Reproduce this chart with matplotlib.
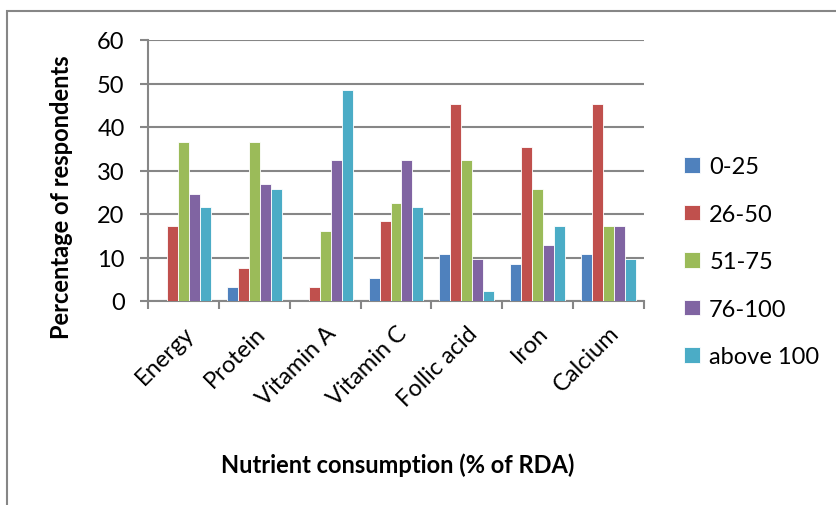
"""
Consumo de nutrientes (% da RDA) por faixa - gráfico de barras agrupadas.
"""

import numpy as np
import matplotlib.pyplot as plt
from matplotlib.patches import Rectangle

nutrientes = ["Energy", "Protein", "Vitamin A", "Vitamin C", "Follic acid", "Iron", "Calcium"]
faixas = ["0-25", "26-50", "51-75", "76-100", "above 100"]

faixa_0_25 = [0, 3.2, 0, 5.4, 10.8, 8.6, 10.8]
faixa_26_50 = [17.2, 7.5, 3.2, 18.3, 45.2, 35.5, 45.2]
faixa_51_75 = [36.6, 36.6, 16.1, 22.6, 32.3, 25.8, 17.2]
faixa_76_100 = [24.7, 26.9, 32.3, 32.3, 9.7, 12.9, 17.2]
faixa_acima_100 = [21.5, 25.8, 48.4, 21.5, 2.2, 17.2, 9.7]

cores = ["#4F81BD", "#C0504D", "#9BBB59", "#8064A2", "#4BACC6"]
cinza = "#868686"
tamanho = 17

plt.rcParams['font.family'] = ['Lato', 'DejaVu Sans']

fig = plt.figure(figsize=(8.36, 5.06), dpi=100)
ax = fig.add_axes([148 / 836, 1 - 302 / 506, (644 - 148) / 836, (302 - 41) / 506])

# moldura externa do gráfico
fig.patches.append(Rectangle((7 / 836, -0.1), 1.2, 1 - 12 / 506 + 0.1,
                             transform=fig.transFigure, fill=False,
                             edgecolor=cinza, linewidth=1.5))

series = [faixa_0_25, faixa_26_50, faixa_51_75, faixa_76_100, faixa_acima_100]
x = np.arange(len(nutrientes))
largura = 0.155
for i, (valores, cor, nome) in enumerate(zip(series, cores, faixas)):
    pos = x + (i - 2) * largura
    ax.bar(pos, valores, width=largura, color=cor, edgecolor="white",
           linewidth=0.6, label=nome, zorder=3)

ax.set_xlim(-0.5, len(nutrientes) - 0.5)
ax.set_ylim(0, 60)
ax.set_yticks(range(0, 61, 10))
ax.tick_params(axis='y', length=5.8, color=cinza, width=1.5, labelsize=tamanho, pad=11)
ax.grid(True, axis='y', color=cinza, linewidth=1.5, zorder=0)

# marcas do eixo x nos limites das categorias, rótulos no centro
ax.set_xticks(np.arange(-0.5, len(nutrientes)), minor=False)
ax.set_xticklabels([])
ax.tick_params(axis='x', which='major', length=5.8, color=cinza, width=1.5)
ax.set_xticks(x, minor=True)
ax.set_xticklabels(nutrientes, minor=True, rotation=45, ha='right',
                   rotation_mode='anchor', fontsize=tamanho)
ax.tick_params(axis='x', which='minor', length=0, pad=15)

for lado in ["top", "right"]:
    ax.spines[lado].set_visible(False)
for lado in ["left", "bottom"]:
    ax.spines[lado].set_color(cinza)
    ax.spines[lado].set_linewidth(1.5)

fig.text(398 / 836, 1 - 465 / 506, "Nutrient consumption (% of RDA)",
         ha='center', va='center', fontsize=tamanho, fontweight='bold')
fig.text(62 / 836, 1 - 197 / 506, "Percentage of respondents",
         ha='center', va='center', rotation=90, fontsize=tamanho, fontweight='bold')

fig.legend(loc='upper left', bbox_to_anchor=(675 / 836, 1 - 148 / 506),
           frameon=False, fontsize=tamanho, handlelength=0.65, handleheight=0.65,
           handletextpad=0.4, labelspacing=1.12, borderaxespad=0)

plt.savefig("out.png", dpi=100)
